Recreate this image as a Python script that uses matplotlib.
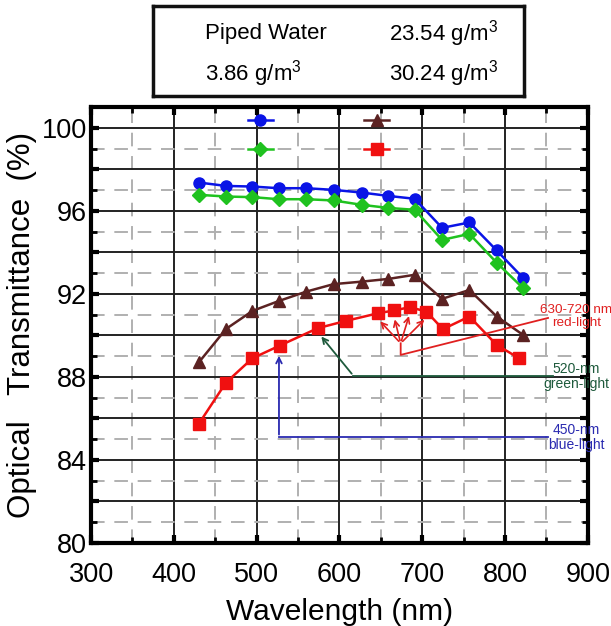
import numpy as np
import matplotlib.pyplot as plt
from matplotlib.ticker import MultipleLocator, FuncFormatter

plt.rcParams['font.family'] = ['Liberation Sans', 'DejaVu Sans']
plt.rcParams['mathtext.fontset'] = 'custom'
plt.rcParams['mathtext.rm'] = 'Liberation Sans'

# wavelengths (nm)
wl = [431, 463, 495, 527, 560, 593, 627, 659, 691, 724, 757, 790, 822]
wl_red = [430, 463, 495, 528, 574, 608, 647, 666, 685, 705, 725, 757, 790, 817]

piped = [97.36, 97.2, 97.17, 97.09, 97.09, 97.01, 96.88, 96.72, 96.58, 95.18, 95.44, 94.09, 92.76]
c386 = [96.77, 96.69, 96.66, 96.56, 96.56, 96.5, 96.29, 96.14, 96.05, 94.6, 94.89, 93.5, 92.27]
c2354 = [88.74, 90.31, 91.18, 91.66, 92.11, 92.47, 92.59, 92.72, 92.92, 91.76, 92.19, 90.91, 90.02]
c3024 = [85.73, 87.73, 88.9, 89.51, 90.35, 90.7, 91.07, 91.2, 91.36, 91.15, 90.3, 90.91, 89.54, 88.9]

box_rows = [["Piped Water", "23.54 g/m$^3$"], ["3.86 g/m$^3$", "30.24 g/m$^3$"]]

# annotation guide points (data coords)
red_join = (674, 89.62)
red_path = [(674, 89.62), (674, 89.06), (852, 90.84)]
green_path = [(858, 88.05), (617, 88.05)]
green_tip = (576, 90.05)
blue_path = [(852, 85.09), (527, 85.09)]
blue_tip = (527, 89.15)

fig = plt.figure(figsize=(6.11, 6.26), dpi=100)
ax = fig.add_axes([0.149, 0.1326, 0.813, 0.6964])

l1, = ax.plot(wl, piped, '-o', color='#0a14e6', lw=1.8, ms=8)
l2, = ax.plot(wl, c386, '-D', color='#1fc21f', lw=1.8, ms=7)
l3, = ax.plot(wl, c2354, '-^', color='#5b2222', lw=1.8, ms=8)
l4, = ax.plot(wl_red, c3024, '-s', color='#f01010', lw=1.8, ms=8)

ax.set_xlim(300, 900)
ax.set_ylim(80, 101)
ax.xaxis.set_major_locator(MultipleLocator(100))
ax.xaxis.set_minor_locator(MultipleLocator(50))
ax.yaxis.set_major_locator(MultipleLocator(2))
ax.yaxis.set_minor_locator(MultipleLocator(1))
ax.yaxis.set_major_formatter(FuncFormatter(lambda v, p: '%d' % v if int(round(v)) % 4 == 0 else ''))
ax.grid(which='major', color='#222222', lw=1.4, ls='-', zorder=0)
ax.grid(which='minor', color='#b0b0b0', lw=1.4, ls=(0, (7, 5)), zorder=0)
ax.set_axisbelow(True)
ax.tick_params(which='both', direction='in', top=True, right=True, labelsize=19.5)
ax.tick_params(which='major', length=6, width=3)
ax.tick_params(which='minor', length=4, width=2)
ax.tick_params(axis='x', pad=14)
ax.tick_params(axis='y', pad=3)
for s in ax.spines.values():
    s.set_linewidth(3)

ax.set_xlabel('Wavelength (nm)', fontsize=21.5)
ax.set_ylabel('Optical   Transmittance  (%)', fontsize=22.5)
ax.xaxis.set_label_coords(0.5, -0.126)
ax.yaxis.set_label_coords(-0.108, 0.5)

# legend markers only, labels live in the box above
ax.legend([l1, l2, l3, l4], ['', '', '', ''], ncol=2, frameon=False,
          loc='upper left', bbox_to_anchor=(0.31, 0.99), fontsize=10,
          handlelength=1.8, handletextpad=0, columnspacing=6.6,
          labelspacing=1.05, borderpad=0.2, borderaxespad=0)

# annotations
red_c = '#e02020'
for x, y in zip(wl_red[6:10], c3024[6:10]):
    ax.annotate('', xy=(x, y - 0.3), xytext=red_join,
                arrowprops=dict(arrowstyle='->', color=red_c, lw=1.2))
ax.plot([p[0] for p in red_path], [p[1] for p in red_path], color=red_c, lw=1.3)
ax.plot([p[0] for p in green_path], [p[1] for p in green_path], color='#1e5a3c', lw=1.3)
ax.annotate('', xy=green_tip, xytext=green_path[1],
            arrowprops=dict(arrowstyle='->', color='#1e5a3c', lw=1.3))
ax.plot([p[0] for p in blue_path], [p[1] for p in blue_path], color='#2a2ab0', lw=1.3)
ax.annotate('', xy=blue_tip, xytext=blue_path[1],
            arrowprops=dict(arrowstyle='->', color='#2a2ab0', lw=1.3))

ax.text(886, 90.9, '630-720 nm\nred-light', color=red_c, fontsize=9.7, ha='center',
        va='center', linespacing=1.1, clip_on=False, zorder=10)
ax.text(886, 88.0, '520-nm\ngreen-light', color='#1e5a3c', fontsize=10, ha='center',
        va='center', linespacing=1.1, clip_on=False, zorder=10)
ax.text(886, 85.1, '450-nm\nblue-light', color='#2a2ab0', fontsize=10, ha='center',
        va='center', linespacing=1.1, clip_on=False, zorder=10)

# box with the series names
bx = fig.add_axes([153 / 611, 1 - 96 / 626, 371 / 611, 90 / 626])
bx.set_xticks([])
bx.set_yticks([])
for s in bx.spines.values():
    s.set_linewidth(2.5)
    s.set_color('#111111')
for i, row in enumerate(box_rows):
    yy = 0.69 - i * 0.44
    bx.text(0.14, yy, row[0], fontsize=16, va='center', ha='left', transform=bx.transAxes)
    bx.text(0.635, yy, row[1], fontsize=16, va='center', ha='left', transform=bx.transAxes)

fig.savefig('out.png', dpi=100)
